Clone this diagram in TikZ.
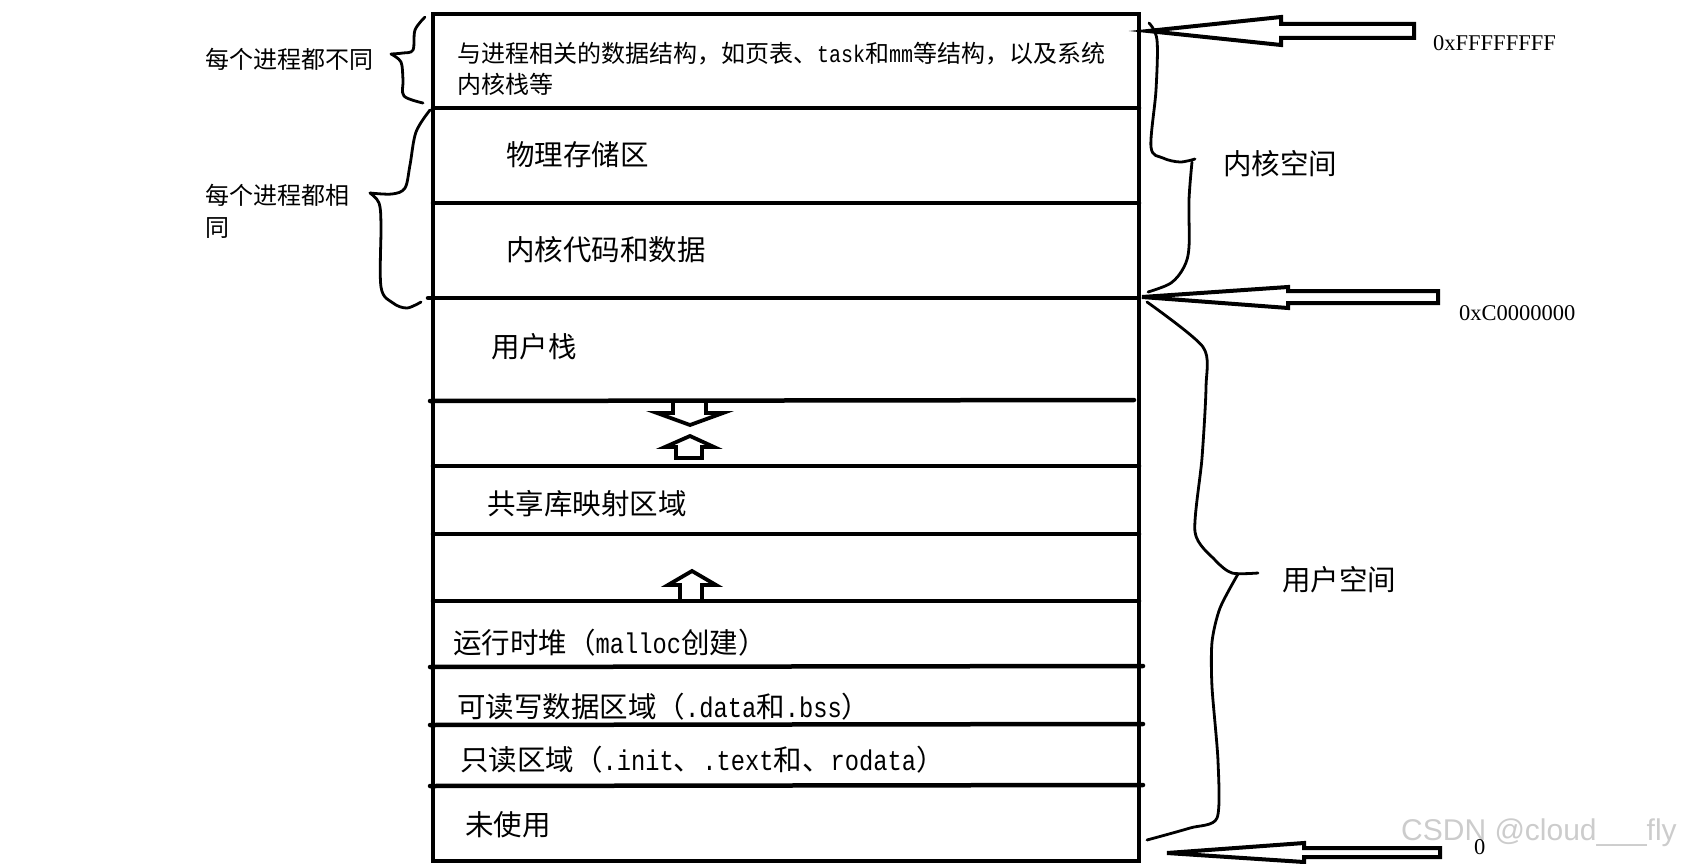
\documentclass[tikz,border=0pt]{standalone}
\usepackage{fontspec}
\setmainfont{Noto Sans CJK SC}
\newfontfamily\latmono[FakeStretch=0.833]{Liberation Mono}
\newfontfamily\serifnum{Liberation Serif}
\newfontfamily\wmfont{Liberation Sans}
\newcommand\monotx[1]{{\latmono #1}}
\begin{document}
\begin{tikzpicture}[x=1pt,y=-1pt,
  box/.style={line width=4.5pt, line join=miter},
  sep/.style={line width=4.5pt, line cap=round},
  brc/.style={line width=2.8pt, line cap=round, line join=round},
  harrow/.style={line width=4pt, line join=miter, fill=white},
  sarrow/.style={line width=3.8pt, line join=miter},
  lbl/.style={inner sep=0pt, anchor=west, font=\fontsize{28.5}{34}\selectfont},
  toptx/.style={inner sep=0pt, anchor=west, align=left, font=\fontsize{24}{31}\selectfont},
  side/.style={inner sep=0pt, anchor=west, align=left, font=\fontsize{24}{32}\selectfont},
  addr/.style={inner sep=0pt, anchor=west, font=\serifnum\fontsize{22.5}{26}\selectfont},
  wm/.style={inner sep=0pt, anchor=west, text=black!20, font=\wmfont\fontsize{30}{34}\selectfont}]
\useasboundingbox (0,0) rectangle (1686,864);

% watermark
\node[wm] (wmark) at (1401,833) {CSDN @cloud\_\_\_fly};

% memory box and separators
\draw[box] (433,14) rectangle (1139,861);
\draw[sep] (433,108) -- (1139,108);
\draw[sep] (433,203) -- (1139,203);
\draw[sep] (428,298) -- (1139,298);
\draw[sep] (430,401) -- (1134,400);
\draw[sep] (433,466) -- (1139,466);
\draw[sep] (433,534) -- (1139,534);
\draw[sep] (433,601) -- (1139,601);
\draw[sep] (430,667) -- (1143,666);
\draw[sep] (430,725) -- (1143,724);
\draw[sep] (430,786) -- (1143,785);

% small growth arrows
\draw[sarrow] (673,401) -- (673,413) -- (657,413) -- (690,425) -- (723,413) -- (706,413) -- (706,401);
\draw[sarrow] (690,436) -- (714,447) -- (702,447) -- (702,458) -- (676,458) -- (676,447) -- (665,447) -- cycle;
\draw[sarrow] (680,601) -- (680,585) -- (668,585) -- (692,571) -- (716,585) -- (702,585) -- (702,601);

% braces
\draw[brc] plot[smooth,tension=0.55] coordinates {(425,17) (415,30) (413,50) (403,53) (391,54)};
\draw[brc] plot[smooth,tension=0.55] coordinates {(391,54) (401,62) (403,80) (404,96) (423,103)};
\draw[brc] plot[smooth,tension=0.55] coordinates {(430,110) (416,132) (410,165) (405,188) (392,194) (370,193)};
\draw[brc] plot[smooth,tension=0.55] coordinates {(370,193) (379,203) (381,225) (381,287) (393,303) (407,308) (421,302)};
\draw[brc] plot[smooth,tension=0.55] coordinates {(1149,23) (1157,40) (1156,90) (1151,147) (1163,158) (1180,162) (1195,159)};
\draw[brc] plot[smooth,tension=0.55] coordinates {(1192,162) (1189,200) (1189,247) (1184,267) (1171,283) (1148,292)};
\draw[brc] plot[smooth,tension=0.45] coordinates {(1147,302) (1203,347) (1206,387) (1202,458) (1195,532) (1215,560) (1232,573) (1258,573)};
\draw[brc] plot[smooth,tension=0.45] coordinates {(1238,574) (1220,608) (1212,642) (1212,687) (1218,761) (1217,818) (1190,828) (1147,840)};

% address arrows
\draw[harrow] (1148,31) -- (1281,17) -- (1281,24) -- (1414,24) -- (1414,38) -- (1281,38) -- (1281,45) -- cycle;
\draw[harrow] (1142,297) -- (1288,287) -- (1288,291) -- (1438,291) -- (1438,303) -- (1288,303) -- (1288,308) -- cycle;
\draw[harrow] (1167,853) -- (1304,843) -- (1304,848) -- (1440,848) -- (1440,857) -- (1304,857) -- (1304,862) -- cycle;

% region texts
\node[toptx] (procdata) at (457,68.5) {与进程相关的数据结构，如页表、\monotx{task}和\monotx{mm}等结构，以及系统\\内核栈等};
\node[lbl] (phys) at (506,155) {物理存储区};
\node[lbl] (kcode) at (506,250) {内核代码和数据};
\node[lbl] (ustack) at (491,347) {用户栈};
\node[lbl] (shlib) at (487,504) {共享库映射区域};
\node[lbl] (heap) at (453,643) {运行时堆（\monotx{malloc}创建）};
\node[lbl] (rwdata) at (457,707) {可读写数据区域（\monotx{.data}和\monotx{.bss}）};
\node[lbl] (rodata) at (460,760) {只读区域（\monotx{.init}、\monotx{.text}和、\monotx{rodata}）};
\node[lbl] (unused) at (465,825) {未使用};

% side texts
\node[side] (diff) at (205,59) {每个进程都不同};
\node[side] (same) at (205,211) {每个进程都相\\同};
\node[lbl] (kspace) at (1223,164) {内核空间};
\node[lbl] (uspace) at (1282,580) {用户空间};

% addresses
\node[addr] (atop) at (1433,43) {0xFFFFFFFF};
\node[addr] (amid) at (1459,313) {0xC0000000};
\node[addr] (azero) at (1474,847) {0};
\end{tikzpicture}
\end{document}
